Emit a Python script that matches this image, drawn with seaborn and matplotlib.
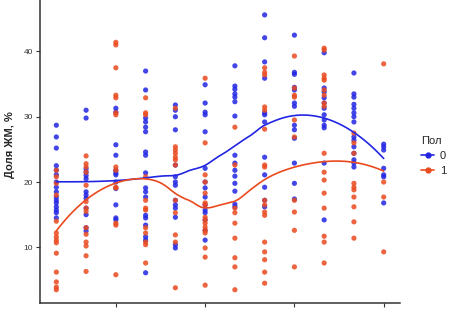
import numpy as np
import pandas as pd
import matplotlib
matplotlib.use("Agg")
import matplotlib.pyplot as plt
import seaborn as sns
from matplotlib.lines import Line2D

# x positions (12 groups) and values, by sex
groups = list(range(1, 13))
sex0_vals = [
    [28.7, 26.9, 25.2, 22.5, 21.8, 21.1, 20.0, 19.2, 18.5, 17.7, 17.2, 16.8, 16.2, 15.7, 15.3, 14.5],
    [31.0, 29.8, 22.0, 21.5, 21.0, 20.5, 18.5, 18.0, 17.5, 16.0, 15.0, 13.0, 12.5],
    [31.3, 30.7, 25.7, 24.1, 21.8, 21.4, 21.1, 20.0, 19.0, 16.5, 14.5, 14.2],
    [37.0, 34.1, 29.8, 29.2, 28.4, 27.7, 24.6, 24.1, 21.4, 19.1, 18.5, 17.7, 14.9, 14.5, 13.4, 11.6, 11.1, 6.1],
    [31.8, 31.0, 30.0, 28.0, 22.6, 20.8, 20.0, 19.5, 17.2, 16.5, 16.0, 14.6, 10.4, 9.9],
    [34.9, 32.1, 30.7, 30.3, 27.7, 22.1, 20.0, 19.1, 17.7, 16.5, 15.7, 15.3, 14.2, 12.6, 11.1],
    [37.8, 34.7, 34.2, 33.5, 33.0, 32.3, 30.1, 24.1, 22.9, 21.8, 20.9, 19.8, 18.6, 16.6, 16.2],
    [45.6, 42.1, 38.4, 35.9, 30.6, 30.3, 29.2, 23.8, 21.1, 19.2, 17.2, 16.2],
    [42.5, 36.8, 36.5, 34.5, 34.1, 32.1, 31.6, 28.7, 28.0, 26.7, 22.9, 19.8, 17.4],
    [39.8, 34.4, 33.8, 32.9, 32.1, 31.3, 30.3, 29.5, 28.7, 28.3, 22.9, 14.2],
    [36.7, 33.5, 33.0, 31.9, 31.3, 30.6, 30.0, 29.2, 26.9, 26.4, 25.4, 24.4, 23.4, 22.9, 22.3],
    [25.8, 25.4, 24.9, 22.1, 21.1, 20.8, 16.8],
]
sex1_vals = [
    [21.8, 20.8, 19.8, 18.0, 14.0, 12.2, 11.6, 11.1, 10.7, 9.1, 6.2, 4.7, 3.9, 3.5],
    [24.0, 22.8, 22.3, 21.5, 19.5, 17.0, 16.0, 15.5, 13.0, 12.0, 10.8, 10.2, 8.7, 6.3],
    [41.4, 41.0, 37.5, 33.3, 32.9, 30.6, 30.3, 22.3, 21.8, 19.2, 19.1, 13.7, 13.4, 5.8],
    [32.9, 30.6, 30.3, 20.8, 17.2, 16.0, 15.7, 13.0, 12.2, 10.8, 10.4, 7.6],
    [31.3, 25.4, 24.9, 24.4, 23.8, 23.4, 22.6, 17.2, 15.3, 11.9, 10.8, 3.8],
    [35.9, 26.0, 21.1, 20.0, 18.3, 16.8, 16.5, 14.6, 14.2, 13.7, 13.1, 12.6, 12.2, 9.9, 8.5, 4.2],
    [28.4, 22.6, 16.0, 15.3, 13.7, 11.4, 8.4, 7.0, 3.5],
    [37.5, 36.8, 36.4, 31.5, 31.0, 28.1, 22.6, 22.3, 17.2, 16.5, 15.4, 14.9, 10.8, 9.3, 8.1, 6.2, 4.5],
    [39.3, 34.4, 33.3, 33.0, 29.5, 26.9, 17.2, 15.4, 12.6, 7.0],
    [40.5, 40.2, 36.4, 35.9, 35.6, 34.1, 33.3, 32.1, 31.6, 24.4, 21.5, 20.3, 18.3, 16.0, 11.7, 10.8, 7.6],
    [27.5, 26.0, 24.4, 19.8, 19.2, 18.8, 17.7, 16.2, 13.9, 11.4],
    [38.1, 20.0, 17.7, 9.3],
]
sex_labels = ["0", "1"]
y_ticks = [10, 20, 30, 40]
x_ticks = [3, 6, 9, 12]

colors = {"0": "#2226e2", "1": "#ea4a1e"}

rows = []
for lab, vals in zip(sex_labels, [sex0_vals, sex1_vals]):
    for g, col in zip(groups, vals):
        for v in col:
            rows.append((g, v, lab))
df = pd.DataFrame(rows, columns=["x", "fat", "sex"])


def loess(x, y, grid, span=0.75):
    # local quadratic fit with tricube weights (like R's loess default)
    n = len(x)
    q = int(np.floor(n * span))
    out = []
    for x0 in grid:
        d = np.abs(x - x0)
        h = max(np.sort(d)[q - 1], 1e-9)
        w = np.clip(1 - (d / h) ** 3, 0, None) ** 3
        X = np.column_stack([np.ones(n), x - x0, (x - x0) ** 2])
        W = np.sqrt(w)
        beta, *_ = np.linalg.lstsq(X * W[:, None], y * W, rcond=None)
        out.append(beta[0])
    return np.array(out)


grid = np.linspace(1, 12, 80)
smooth = []
for lab in sex_labels:
    sub = df[df["sex"] == lab]
    fit = loess(sub["x"].to_numpy(float), sub["fat"].to_numpy(float), grid)
    smooth.append(pd.DataFrame({"x": grid, "fat": fit, "sex": lab}))
smooth_df = pd.concat(smooth)

sns.set_style("white")
plt.rcParams["font.family"] = ["Liberation Sans", "DejaVu Sans"]

fig = plt.figure(figsize=(4.49, 3.10), dpi=100)
ax = fig.add_axes([0.089, 0.0226, 0.802, 1.022])

sns.scatterplot(data=df, x="x", y="fat", hue="sex", palette=colors,
                s=14, alpha=0.85, edgecolor="none", legend=False, ax=ax)
sns.lineplot(data=smooth_df, x="x", y="fat", hue="sex", palette=colors,
             linewidth=1.2, legend=False, ax=ax)

ax.set_xlim(0.45, 12.55)
ax.set_ylim(1.47, 50)
ax.set_xticks(x_ticks)
ax.set_xticklabels([])
ax.set_yticks(y_ticks)
ax.set_yticklabels([str(t) for t in y_ticks], fontsize=6, color="#333333")
ax.tick_params(axis="both", direction="out", length=3, width=0.8, color="#333333",
               bottom=True, left=True, pad=2)
ax.set_xlabel("")
ax.set_ylabel("Доля ЖМ, %", fontsize=8, fontweight="bold", labelpad=6)
for side in ["top", "right"]:
    ax.spines[side].set_visible(False)
for side in ["left", "bottom"]:
    ax.spines[side].set_color("#333333")
    ax.spines[side].set_linewidth(1.1)

handles = [Line2D([0], [0], color=colors[l], marker="o", markersize=3.5, linewidth=1.2)
           for l in sex_labels]
fig.legend(handles, sex_labels, title="Пол", loc="upper left",
           bbox_to_anchor=(0.925, 0.578), frameon=False, fontsize=8, title_fontsize=8,
           handlelength=1.2, handletextpad=0.5, labelspacing=0.45, borderpad=0,
           alignment="left")

fig.savefig("out.png", dpi=100)
